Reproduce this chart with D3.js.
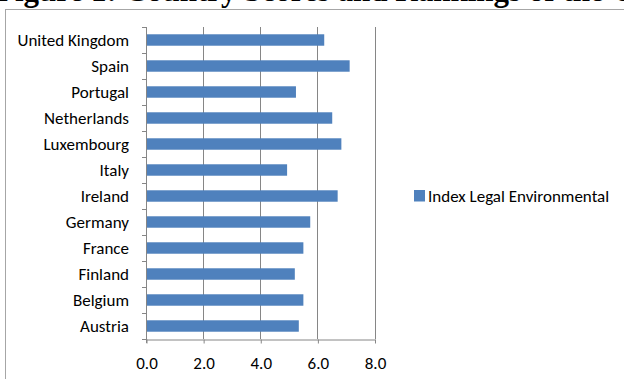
<html>
    <head>
        <script src="https://d3js.org/d3.v7.min.js"></script>
        <style>
            body { margin: 0; background: #fff; }
            svg text { font-family: Carlito, Lato, sans-serif; }
        </style>
    </head>
    <body>
        <svg width="624" height="379"></svg>
        <script>
        // data, top row first
        const countries = ['United Kingdom', 'Spain', 'Portugal', 'Netherlands', 'Luxembourg', 'Italy',
                           'Ireland', 'Germany', 'France', 'Finland', 'Belgium', 'Austria'];
        const scores = [6.24, 7.13, 5.25, 6.52, 6.84, 4.94, 6.71, 5.75, 5.51, 5.21, 5.51, 5.35];
        const xTicks = [0, 2, 4, 6, 8];
        const seriesName = 'Index Legal Environmental';
        const titleText = 'Figure 1: Country Scores and Rankings of the Green Economy';

        const svg = d3.select('svg');
        const width = +svg.attr('width');
        const height = +svg.attr('height');

        const plot = {left: 146, right: 374.5, top: 27, bottom: 339};
        const barColor = '#4f81bd';
        const gridColor = '#868686';
        const labelSize = '17px';

        const data = countries.map((c, i) => ({country: c, value: scores[i]}));

        // title, its top is cut by the page edge as in the source
        svg.append('text')
            .attr('x', -4).attr('y', 0.5)
            .style('font-family', '"Liberation Serif", "Times New Roman", serif')
            .style('font-weight', 'bold')
            .style('font-size', '31px')
            .attr('fill', '#000')
            .text(titleText);

        // chart area border (runs off the right and bottom edges)
        svg.append('rect')
            .attr('x', 5.5).attr('y', 9.5)
            .attr('width', width + 20).attr('height', height + 20)
            .attr('fill', 'none')
            .attr('stroke', '#a6a6a6');

        const x = d3.scaleLinear().domain([0, 8]).range([plot.left, plot.right]);
        const y = d3.scaleBand().domain(countries)
            .range([plot.top, plot.bottom])
            .paddingInner(0.56).paddingOuter(0.28);
        const yEdge = d3.scaleLinear().domain([0, countries.length]).range([plot.top, plot.bottom]);

        // vertical gridlines
        svg.append('g').selectAll('line.grid').data(xTicks.filter(d => d > 0))
            .join('line')
            .attr('class', 'grid')
            .attr('x1', d => Math.round(x(d)) + 0.5).attr('x2', d => Math.round(x(d)) + 0.5)
            .attr('y1', plot.top).attr('y2', plot.bottom)
            .attr('stroke', gridColor);

        // bars
        svg.append('g').selectAll('rect.bar').data(data)
            .join('rect')
            .attr('class', 'bar')
            .attr('x', x(0))
            .attr('y', d => y(d.country))
            .attr('width', d => x(d.value) - x(0))
            .attr('height', y.bandwidth())
            .attr('fill', barColor);

        // y axis line + category ticks
        const yAxis = svg.append('g');
        yAxis.append('line')
            .attr('x1', Math.round(x(0)) + 0.5).attr('x2', Math.round(x(0)) + 0.5)
            .attr('y1', plot.top).attr('y2', plot.bottom + 4)
            .attr('stroke', gridColor);
        yAxis.selectAll('line.tick').data(d3.range(countries.length + 1))
            .join('line')
            .attr('class', 'tick')
            .attr('x1', x(0) - 4).attr('x2', x(0))
            .attr('y1', d => Math.round(yEdge(d)) + 0.5).attr('y2', d => Math.round(yEdge(d)) + 0.5)
            .attr('stroke', gridColor);
        yAxis.selectAll('text').data(countries)
            .join('text')
            .attr('x', 129)
            .attr('y', d => y(d) + y.bandwidth() / 2)
            .attr('dy', '0.35em')
            .attr('text-anchor', 'end')
            .style('font-size', labelSize)
            .attr('fill', '#000')
            .text(d => d);

        // x axis
        const xAxis = svg.append('g')
            .attr('transform', `translate(0.5,${Math.round(plot.bottom) + 0.5})`)
            .call(d3.axisBottom(x).tickValues(xTicks).tickFormat(d3.format('.1f')).tickSize(4).tickSizeOuter(0));
        xAxis.select('.domain').attr('stroke', gridColor);
        xAxis.selectAll('.tick line').attr('stroke', gridColor);
        xAxis.selectAll('.tick text')
            .attr('y', 17)
            .style('font-family', 'Carlito, Lato, sans-serif')
            .style('font-size', labelSize)
            .attr('fill', '#000');

        // legend
        const legend = svg.append('g').attr('transform', 'translate(414,190)');
        legend.append('rect')
            .attr('width', 11).attr('height', 11.5)
            .attr('fill', barColor);
        legend.append('text')
            .attr('x', 14).attr('y', 6)
            .attr('dy', '0.35em')
            .style('font-size', labelSize)
            .attr('fill', '#000')
            .text(seriesName);
        </script>
    </body>
</html>
